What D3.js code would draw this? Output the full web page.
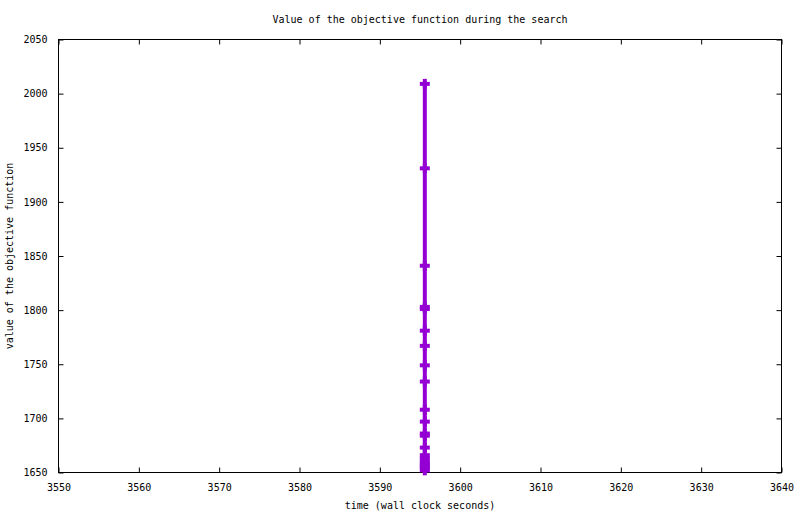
<!DOCTYPE html>
<html>
<head>
<meta charset="UTF-8">
<script src="https://d3js.org/d3.v7.min.js"></script>
<style>
    body, html { margin: 0; background: #fff; }
    text { font-family: 'DejaVu Sans Mono', monospace; font-size: 10px; fill: #000; }
</style>
</head>
<body>
<svg id="chart"></svg>
<script>
    // objective value samples (wall clock seconds, value)
    const times = [3595.6, 3595.6, 3595.6, 3595.6, 3595.6, 3595.6, 3595.6, 3595.6, 3595.6, 3595.6,
                   3595.6, 3595.6, 3595.6, 3595.6, 3595.6, 3595.6, 3595.6, 3595.6, 3595.6, 3595.6, 3595.6];
    const values = [2009, 1931, 1841, 1803, 1801, 1781, 1767, 1749, 1734, 1708, 1697,
                    1686, 1684, 1673, 1666, 1663, 1660, 1658, 1656, 1654, 1652];
    const xTicks = [3550, 3560, 3570, 3580, 3590, 3600, 3610, 3620, 3630, 3640];
    const yTicks = [1650, 1700, 1750, 1800, 1850, 1900, 1950, 2000, 2050];

    const W = 800, H = 514;
    const margin = { top: 39.5, right: 18.5, bottom: 41.5, left: 58.5 };
    const width = W - margin.left - margin.right,
        height = H - margin.top - margin.bottom;

    const svg = d3.select("#chart").attr("width", W).attr("height", H);
    const g = svg.append("g").attr("transform", `translate(${margin.left},${margin.top})`);

    const x = d3.scaleLinear().domain([3550, 3640]).range([0, width]);
    const y = d3.scaleLinear().domain([1650, 2050]).range([height, 0]);

    function styleAxis(sel, hideText) {
        sel.select(".domain").remove();
        sel.selectAll("line").attr("stroke", "#000");
        if (hideText) sel.selectAll("text").remove();
    }

    // bottom + top ticks (pointing inward)
    g.append("g").attr("transform", `translate(0,${height})`)
        .call(d3.axisBottom(x).tickValues(xTicks).tickSize(-5).tickPadding(11).tickFormat(d3.format("d")))
        .call(s => styleAxis(s, false));
    g.append("g")
        .call(d3.axisTop(x).tickValues(xTicks).tickSize(-5).tickFormat(""))
        .call(s => styleAxis(s, true));
    g.append("g")
        .call(d3.axisLeft(y).tickValues(yTicks).tickSize(-5).tickPadding(11).tickFormat(d3.format("d")))
        .call(s => styleAxis(s, false));
    g.append("g").attr("transform", `translate(${width},0)`)
        .call(d3.axisRight(y).tickValues(yTicks).tickSize(-5).tickFormat(""))
        .call(s => styleAxis(s, true));

    g.selectAll(".tick text").attr("font-family", "'DejaVu Sans Mono', monospace").attr("font-size", 10);

    g.append("rect").attr("width", width).attr("height", height)
        .attr("fill", "none").attr("stroke", "#000").attr("stroke-width", 1);

    const pts = times.map((t, i) => ({ t, v: values[i] }));
    const color = "#9400d3";

    g.append("path").datum(pts)
        .attr("fill", "none").attr("stroke", color).attr("stroke-width", 4)
        .attr("d", d3.line().x(d => x(d.t)).y(d => y(d.v)));

    const marks = g.selectAll(".pt").data(pts).enter().append("g")
        .attr("transform", d => `translate(${x(d.t)},${y(d.v)})`);
    marks.append("line").attr("x1", -5).attr("x2", 5)
        .attr("stroke", color).attr("stroke-width", 4);
    marks.append("line").attr("y1", -5).attr("y2", 5)
        .attr("stroke", color).attr("stroke-width", 4);

    svg.append("text").attr("x", margin.left + width / 2).attr("y", 23)
        .attr("text-anchor", "middle").text("Value of the objective function during the search");
    svg.append("text").attr("x", margin.left + width / 2).attr("y", 509)
        .attr("text-anchor", "middle").text("time (wall clock seconds)");
    svg.append("text").attr("transform", `translate(13,${margin.top + height / 2}) rotate(-90)`)
        .attr("text-anchor", "middle").text("value of the objective function");
</script>
</body>
</html>
